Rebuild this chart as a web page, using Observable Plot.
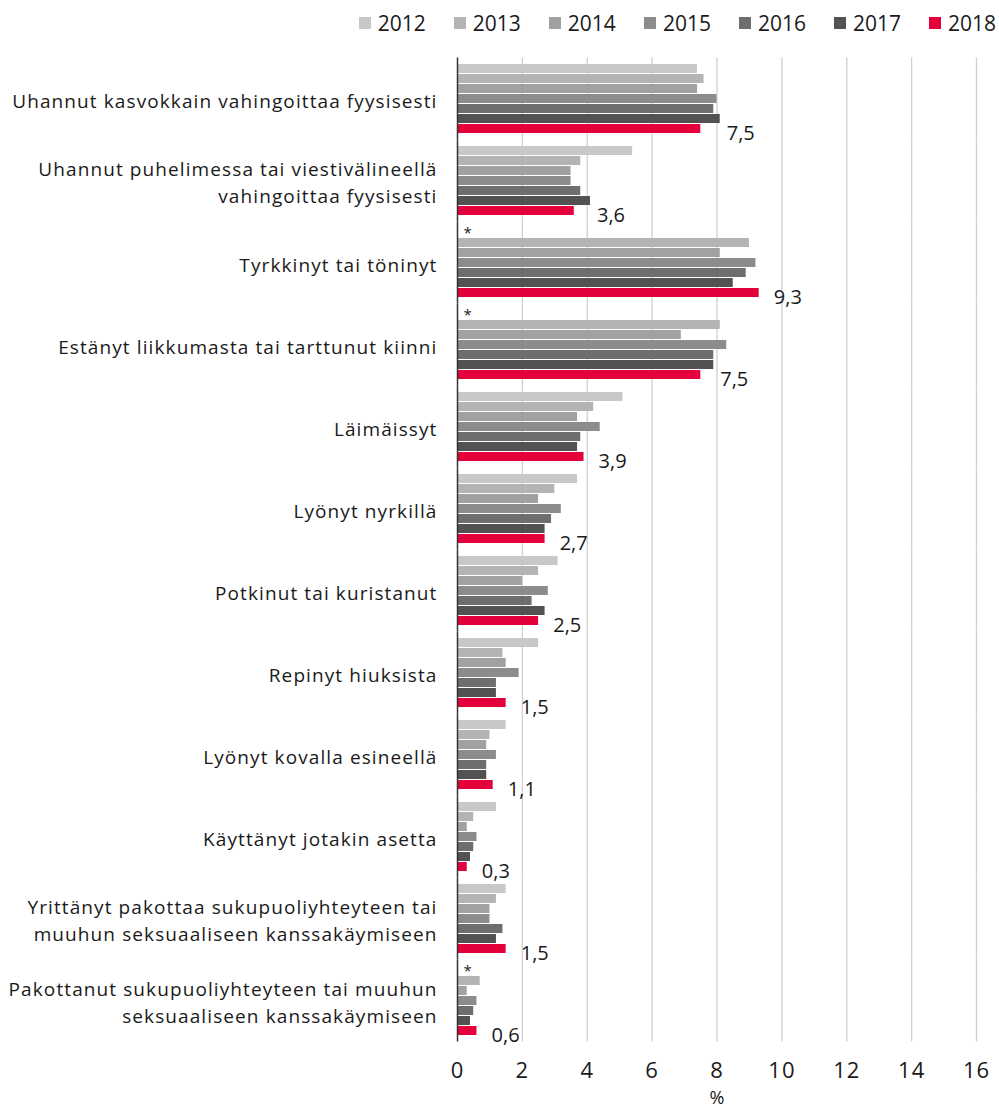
<!DOCTYPE html>
<html>
<head>
<meta charset="utf-8">
<script src="https://cdn.jsdelivr.net/npm/d3@7"></script>
<script src="https://cdn.jsdelivr.net/npm/@observablehq/plot@0.6"></script>
<style>
  html, body { margin: 0; padding: 0; background: #fff; }
  body { width: 999px; height: 1109px; overflow: hidden; font-family: "Open Sans", sans-serif; color: #1a1a1a; }
  #legend { height: 45px; display: flex; justify-content: flex-end; align-items: center; padding-right: 3px; font-size: 21px; }
  .item { display: flex; align-items: center; margin-left: 28px; }
  .sw { width: 12px; height: 12px; margin-right: 7px; }
  svg { display: block; }
</style>
</head>
<body>
<div id="legend"></div>
<div id="chart"></div>
<script>
const categories = [
  "Uhannut kasvokkain vahingoittaa fyysisesti",
  "Uhannut puhelimessa tai viestivälineellä\nvahingoittaa fyysisesti",
  "Tyrkkinyt tai töninyt",
  "Estänyt liikkumasta tai tarttunut kiinni",
  "Läimäissyt",
  "Lyönyt nyrkillä",
  "Potkinut tai kuristanut",
  "Repinyt hiuksista",
  "Lyönyt kovalla esineellä",
  "Käyttänyt jotakin asetta",
  "Yrittänyt pakottaa sukupuoliyhteyteen tai\nmuuhun seksuaaliseen kanssakäymiseen",
  "Pakottanut sukupuoliyhteyteen tai muuhun\nseksuaaliseen kanssakäymiseen"
];
const years = ["2012", "2013", "2014", "2015", "2016", "2017", "2018"];
const v2012 = [7.4, 5.4, null, null, 5.1, 3.7, 3.1, 2.5, 1.5, 1.2, 1.5, null];
const v2013 = [7.6, 3.8, 9.0, 8.1, 4.2, 3.0, 2.5, 1.4, 1.0, 0.5, 1.2, 0.7];
const v2014 = [7.4, 3.5, 8.1, 6.9, 3.7, 2.5, 2.0, 1.5, 0.9, 0.3, 1.0, 0.3];
const v2015 = [8.0, 3.5, 9.2, 8.3, 4.4, 3.2, 2.8, 1.9, 1.2, 0.6, 1.0, 0.6];
const v2016 = [7.9, 3.8, 8.9, 7.9, 3.8, 2.9, 2.3, 1.2, 0.9, 0.5, 1.4, 0.5];
const v2017 = [8.1, 4.1, 8.5, 7.9, 3.7, 2.7, 2.7, 1.2, 0.9, 0.4, 1.2, 0.4];
const v2018 = [7.5, 3.6, 9.3, 7.5, 3.9, 2.7, 2.5, 1.5, 1.1, 0.3, 1.5, 0.6];
const xTicks = [0, 2, 4, 6, 8, 10, 12, 14, 16];
const xLabel = "%";
const missingMark = "*";

const colors = ["#c8c8c8", "#b4b4b4", "#a0a1a0", "#8c8c8c", "#6e6e6e", "#525252", "#e4003a"];
const series = [v2012, v2013, v2014, v2015, v2016, v2017, v2018];

const rows = [];
categories.forEach((c, i) => {
  years.forEach((y, j) => {
    const v = series[j][i];
    if (v != null) rows.push({category: c, year: y, value: v});
  });
});
const missing = categories.filter((c, i) => v2012[i] == null).map(c => ({category: c, year: "2012"}));
const labels = categories.map((c, i) => ({
  category: c,
  year: "2018",
  value: v2018[i],
  pos: Math.max(v2018[i] + 0.45, v2017[i] + 0.2)
}));
const fmt = v => d3.format(".1f")(v).replace(".", ",");

// Legend
const legend = document.getElementById("legend");
years.forEach((y, j) => {
  const it = document.createElement("div");
  it.className = "item";
  it.innerHTML = `<span class="sw" style="background:${colors[j]}"></span><span>${y}</span>`;
  legend.appendChild(it);
});

const font = "Open Sans";
const chart = Plot.plot({
  width: 999,
  height: 1064,
  marginLeft: 457,
  marginRight: 23,
  marginTop: 13,
  marginBottom: 67,
  style: {fontFamily: font, color: "#1a1a1a", background: "#fff"},
  x: {domain: [0, 16], axis: null},
  y: {domain: years, axis: null, paddingInner: 0.06, paddingOuter: 0},
  fy: {domain: categories, axis: null, paddingInner: 0.104, paddingOuter: 0.05},
  color: {domain: years, range: colors},
  marks: [
    Plot.ruleX(xTicks.filter(d => d > 0), {x: d => d, stroke: "#d0d0d0", strokeWidth: 1.3, insetTop: -4.5, insetBottom: -4.5}),
    Plot.barX(rows, {x: "value", y: "year", fy: "category", fill: "year"}),
    Plot.ruleX([0], {x: d => d, stroke: "#333", strokeWidth: 1.5, insetTop: -4.5, insetBottom: -4.5}),
    Plot.text(missing, {x: 0, y: "year", fy: "category", text: () => missingMark, textAnchor: "start", dx: 6, dy: 0, fontSize: 15, fill: "#1a1a1a"}),
    Plot.text(labels, {x: "pos", y: "year", fy: "category", text: d => fmt(d.value), textAnchor: "start", dy: 5, fontSize: 20, fill: "#1a1a1a"}),
    Plot.text(categories, {fy: d => d, text: d => d, frameAnchor: "left", textAnchor: "end", dx: -20, fontSize: 19, lineHeight: 1.42, fill: "#1a1a1a"}),
    Plot.axisX(xTicks, {tickSize: 0, tickPadding: 25, fontSize: 22, label: null}),
    Plot.text([{x: 8, category: categories[categories.length - 1]}], {x: "x", fy: "category", text: () => xLabel, frameAnchor: "bottom", lineAnchor: "top", dy: 54, fontSize: 18, fill: "#1a1a1a"})
  ]
});
const flatCats = categories.map(c => c.replace("\n", ""));
const tickStrings = xTicks.map(String);
d3.select(chart).selectAll("text")
  .filter(function() { return flatCats.includes(this.textContent); })
  .style("letter-spacing", "1.1px");
d3.select(chart).selectAll("text")
  .filter(function() { return tickStrings.includes(this.textContent); })
  .style("letter-spacing", "1px");
document.getElementById("chart").appendChild(chart);
</script>
</body>
</html>
